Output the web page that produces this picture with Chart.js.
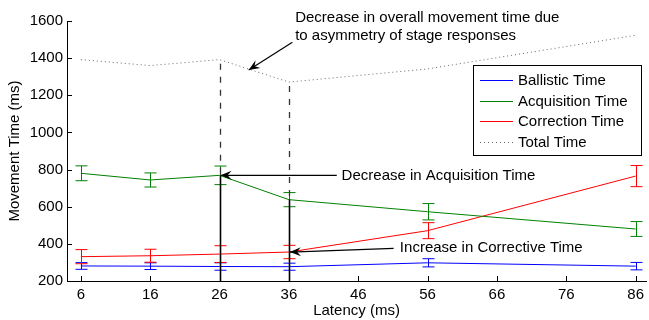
<!DOCTYPE html>
<html>
<head>
<meta charset="utf-8">
<script src="https://cdn.jsdelivr.net/npm/chart.js@4"></script>
<style>
  html, body { margin: 0; padding: 0; background: #fff; }
  canvas { display: block; }
</style>
</head>
<body>
<canvas id="grafico" width="649" height="320"></canvas>
<script>
// valores
const latency = [6, 16, 26, 36, 56, 86]
const ballistic = [281, 280, 278, 277, 298, 280]
const ballisticErr = [18, 18, 20, 19, 22, 20]
const acquisition = [780, 744, 769, 638, 573, 480]
const acquisitionErr = [40, 38, 50, 38, 44, 40]
const correction = [331, 336, 345, 356, 471, 765]
const correctionErr = [38, 35, 45, 36, 43, 57]
const total = [1392, 1360, 1392, 1271, 1342, 1523]
const xTicks = [6, 16, 26, 36, 46, 56, 66, 76, 86]
const yTicks = [200, 400, 600, 800, 1000, 1200, 1400, 1600]
const seriesNames = ['Ballistic Time', 'Acquisition Time', 'Correction Time', 'Total Time']
const seriesColors = ['#0000ff', '#008000', '#ff0000', '#666666']

const FONT = '"Liberation Sans", Arial, Helvetica, sans-serif'

const pontos = (ys) => latency.map((x, i) => ({ x: x, y: ys[i] }))

const serie = (i, ys, err, dash) => ({
    label: seriesNames[i],
    data: pontos(ys),
    borderColor: seriesColors[i],
    borderWidth: 1,
    borderDash: dash || [],
    pointRadius: 0,
    tension: 0,
    fill: false,
    erros: err
})

// barras de erro
const barrasErro = {
    id: 'barrasErro',
    afterDatasetsDraw(chart) {
        const ctx = chart.ctx
        const sx = chart.scales.x, sy = chart.scales.y
        chart.data.datasets.forEach((ds) => {
            if (!ds.erros) return
            ctx.save()
            ctx.strokeStyle = ds.borderColor
            ctx.lineWidth = 1
            ds.data.forEach((p, i) => {
                const x = Math.round(sx.getPixelForValue(p.x)) + 0.5
                const y1 = sy.getPixelForValue(p.y + ds.erros[i])
                const y2 = sy.getPixelForValue(p.y - ds.erros[i])
                ctx.beginPath()
                ctx.moveTo(x, y1); ctx.lineTo(x, y2)
                ctx.moveTo(x - 6, y1); ctx.lineTo(x + 6, y1)
                ctx.moveTo(x - 6, y2); ctx.lineTo(x + 6, y2)
                ctx.stroke()
            })
            ctx.restore()
        })
    }
}

const seta = (ctx, x0, y0, x1, y1) => {
    ctx.beginPath()
    ctx.moveTo(x0, y0); ctx.lineTo(x1, y1)
    ctx.stroke()
    const a = Math.atan2(y1 - y0, x1 - x0)
    const c = Math.cos(a), s = Math.sin(a)
    const L = 11, W = 4.5, N = 7
    ctx.beginPath()
    ctx.moveTo(x1, y1)
    ctx.lineTo(x1 - L * c + W * s, y1 - L * s - W * c)
    ctx.lineTo(x1 - N * c, y1 - N * s)
    ctx.lineTo(x1 - L * c - W * s, y1 - L * s + W * c)
    ctx.closePath()
    ctx.fill()
}

// eixos com ticks para dentro, anotacoes e legenda
const anotacoes = {
    id: 'anotacoes',
    afterDraw(chart) {
        const ctx = chart.ctx
        const sx = chart.scales.x, sy = chart.scales.y
        const X = (v) => sx.getPixelForValue(v)
        const Y = (v) => sy.getPixelForValue(v)
        const area = chart.chartArea
        ctx.save()

        // ticks
        ctx.strokeStyle = '#000'
        ctx.lineWidth = 1
        ctx.beginPath()
        xTicks.forEach((t) => {
            const x = Math.round(X(t)) + 0.5
            ctx.moveTo(x, area.bottom); ctx.lineTo(x, area.bottom - 5)
        })
        yTicks.forEach((t) => {
            const y = Math.round(Y(t)) + 0.5
            ctx.moveTo(area.left, y); ctx.lineTo(area.left + 5, y)
        })
        ctx.stroke()

        // linhas verticais em 26 e 36
        ;[2, 3].forEach((i) => {
            const x = Math.round(X(latency[i])) + 0.5
            ctx.strokeStyle = '#333'
            ctx.lineWidth = 1.3
            ctx.setLineDash([6, 7])
            ctx.beginPath()
            ctx.moveTo(x, Y(total[i]) + 4); ctx.lineTo(x, Y(acquisition[i]))
            ctx.stroke()
            ctx.setLineDash([])
            ctx.strokeStyle = '#000'
            ctx.lineWidth = 1.6
            ctx.beginPath()
            ctx.moveTo(x, Y(acquisition[i])); ctx.lineTo(x, area.bottom)
            ctx.stroke()
        })

        // setas
        ctx.strokeStyle = '#000'
        ctx.fillStyle = '#000'
        ctx.lineWidth = 1.2
        seta(ctx, X(42.9), Y(acquisition[2]), X(latency[2]) + 1, Y(acquisition[2]))
        seta(ctx, X(51.1), Y(376), X(latency[3]) + 1, Y(correction[3]))
        seta(ctx, X(36.5), Y(1485), X(30.2), Y(1336))

        ctx.font = '15px ' + FONT
        ctx.textBaseline = 'middle'
        ctx.textAlign = 'left'
        ctx.fillText('Decrease in Acquisition Time', X(43.6), Y(acquisition[2]) + 1)
        ctx.fillText('Increase in Corrective Time', X(52.0), Y(378))
        ctx.fillText('Decrease in overall movement time due', X(36.9), Y(1615))
        ctx.fillText('to asymmetry of stage responses', X(36.9), Y(1521))

        // legenda
        const lx = 473.5, ly = 65.5, lw = 168, lh = 90
        ctx.fillStyle = '#fff'
        ctx.fillRect(lx, ly, lw, lh)
        ctx.strokeStyle = '#000'
        ctx.lineWidth = 1
        ctx.strokeRect(lx, ly, lw, lh)
        seriesNames.forEach((nome, i) => {
            const y = Math.round(ly + 14.5 + i * 20.7) + 0.5
            ctx.strokeStyle = seriesColors[i]
            ctx.setLineDash(i === 3 ? [1, 3] : [])
            ctx.beginPath()
            ctx.moveTo(480, y); ctx.lineTo(513, y)
            ctx.stroke()
            ctx.setLineDash([])
            ctx.fillStyle = '#000'
            ctx.fillText(nome, 518, y + 0.5)
        })
        ctx.restore()
    }
}

new Chart(document.getElementById('grafico'), {
    type: 'line',
    data: {
        datasets: [
            serie(0, ballistic, ballisticErr),
            serie(1, acquisition, acquisitionErr),
            serie(2, correction, correctionErr),
            serie(3, total, null, [1, 3])
        ]
    },
    options: {
        responsive: false,
        animation: false,
        devicePixelRatio: 1,
        layout: { padding: { top: 21, right: 0, bottom: 0, left: 0 } },
        plugins: {
            legend: { display: false },
            tooltip: { enabled: false }
        },
        scales: {
            x: {
                type: 'linear',
                min: 4,
                max: 87.5,
                afterBuildTicks: (axis) => { axis.ticks = xTicks.map((v) => ({ value: v })) },
                afterFit: (axis) => { axis.height = 39 },
                grid: { display: false, drawTicks: false },
                border: { display: true, color: '#000', width: 1 },
                ticks: { color: '#000', font: { family: FONT, size: 15 }, padding: 5, maxRotation: 0, autoSkip: false, callback: (v) => String(v) },
                title: { display: true, text: 'Latency (ms)', color: '#000', font: { family: FONT, size: 15 }, padding: { top: 0, bottom: 0 } }
            },
            y: {
                min: 200,
                max: 1600,
                afterBuildTicks: (axis) => { axis.ticks = yTicks.map((v) => ({ value: v })) },
                afterFit: (axis) => { axis.width = 67 },
                grid: { display: false, drawTicks: false },
                border: { display: true, color: '#000', width: 1 },
                ticks: { color: '#000', font: { family: FONT, size: 15 }, padding: 4, autoSkip: false, callback: (v) => String(v) },
                title: { display: true, text: 'Movement Time (ms)', color: '#000', font: { family: FONT, size: 15 }, padding: { top: 6, bottom: 0 } }
            }
        }
    },
    plugins: [barrasErro, anotacoes]
})
</script>
</body>
</html>
